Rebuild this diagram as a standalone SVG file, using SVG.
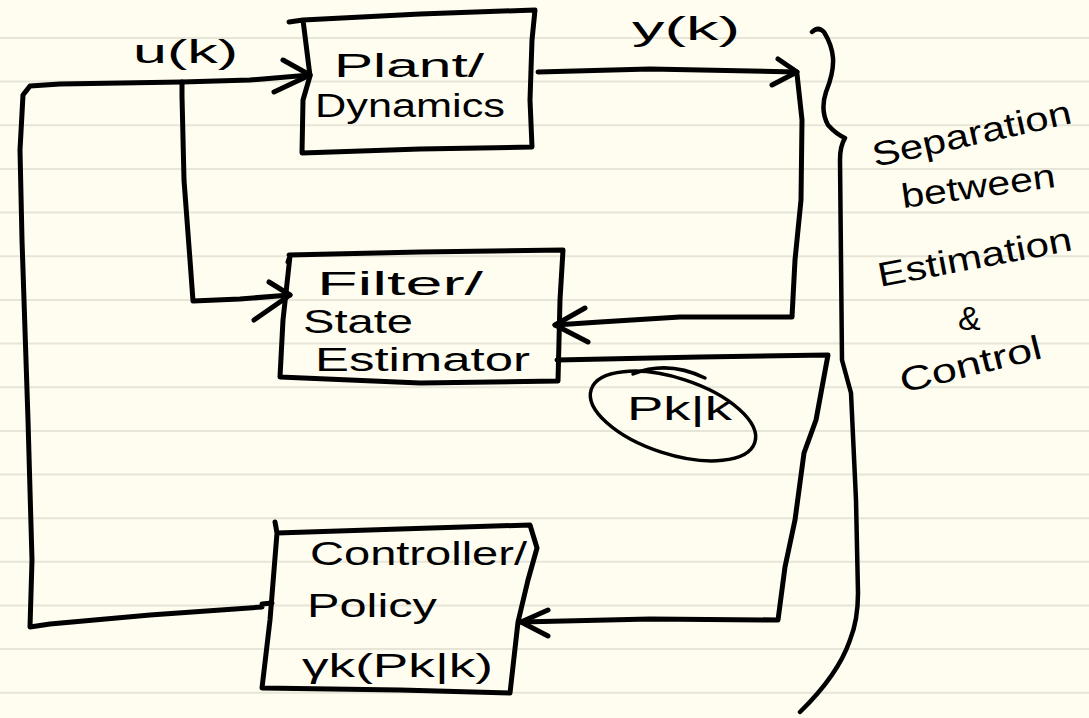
<svg xmlns="http://www.w3.org/2000/svg" width="1089" height="718" viewBox="0 0 1089 718">
  <style>
    .paper { fill: #FEFDF0; }
    .rule { stroke: #E7E5D8; stroke-width: 2; }
    .ink { fill: none; stroke: #000; stroke-width: 5; stroke-linecap: round; stroke-linejoin: round; }
    .thin { fill: none; stroke: #000; stroke-width: 3.5; stroke-linecap: round; stroke-linejoin: round; }
    .brace { fill: none; stroke: #000; stroke-width: 4.5; stroke-linecap: round; stroke-linejoin: round; }
    .txt { font-family: "Liberation Sans", "DejaVu Sans", sans-serif; fill: #000; font-size: 34px; }
  </style>

  <rect class="paper" x="0" y="0" width="1089" height="718"/>
  <g id="ruling">
    <line class="rule" x1="0" y1="38" x2="1089" y2="38"/>
    <line class="rule" x1="0" y1="81.6" x2="1089" y2="81.6"/>
    <line class="rule" x1="0" y1="125.3" x2="1089" y2="125.3"/>
    <line class="rule" x1="0" y1="169" x2="1089" y2="169"/>
    <line class="rule" x1="0" y1="212.6" x2="1089" y2="212.6"/>
    <line class="rule" x1="0" y1="256.3" x2="1089" y2="256.3"/>
    <line class="rule" x1="0" y1="299.9" x2="1089" y2="299.9"/>
    <line class="rule" x1="0" y1="343.6" x2="1089" y2="343.6"/>
    <line class="rule" x1="0" y1="387.2" x2="1089" y2="387.2"/>
    <line class="rule" x1="0" y1="430.9" x2="1089" y2="430.9"/>
    <line class="rule" x1="0" y1="474.5" x2="1089" y2="474.5"/>
    <line class="rule" x1="0" y1="518.2" x2="1089" y2="518.2"/>
    <line class="rule" x1="0" y1="561.8" x2="1089" y2="561.8"/>
    <line class="rule" x1="0" y1="605.5" x2="1089" y2="605.5"/>
    <line class="rule" x1="0" y1="649.1" x2="1089" y2="649.1"/>
    <line class="rule" x1="0" y1="692.8" x2="1089" y2="692.8"/>
  </g>

  <g id="connectors">
    <!-- feedback loop: controller -> left rail -> u(k) -> plant -->
    <path class="ink" d="M272,603 L262,604 L262,607 L150,615 L50,624 L30,627 L32,560 L28,420 L22,240 L20,150 L23,95 L30,86 L60,84 L182,82 L250,80 L310,75"/>
    <polyline class="ink" points="283,60 310,75 274,92"/>
    <!-- branch: u(k) -> filter -->
    <path class="ink" d="M182,82 L182,96 L184,180 L190,260 L193,301 L240,299 L290,295"/>
    <polyline class="ink" points="269,282 290,295 254,320"/>
    <!-- y(k): plant -> right rail -> filter -->
    <path class="ink" d="M538,72 L650,69 L797,72"/>
    <polyline class="ink" points="778,59 797,72 772,85"/>
    <path class="ink" d="M797,74 L802,120 L801,200 L795,260 L792,317 L680,317 L600,322 L555,325"/>
    <polyline class="ink" points="585,308 555,325 588,342"/>
    <!-- filter -> P_k|k -> controller -->
    <path class="ink" d="M557,360 L700,357 L828,355 L816,420 L804,453 L795,520 L785,567 L778,620 L650,619 L521,622"/>
    <polyline class="ink" points="548,610 521,622 548,636"/>
  </g>

  <g id="plant">
    <path class="ink" d="M289,22 L303,20 L420,14 L535,10 L532,40 L530,100 L532,147 L420,149 L302,153 L303,100 L310,76 L303,20"/>
    <text class="txt" x="334" y="77" font-size="38" textLength="150" lengthAdjust="spacingAndGlyphs">Plant/</text>
    <text class="txt" x="315" y="117" font-size="32" textLength="190" lengthAdjust="spacingAndGlyphs">Dynamics</text>
  </g>

  <g id="filter">
    <path class="ink" d="M289,255 L420,252 L563,250 L560,300 L558,381 L420,383 L280,377 L283,320 L290,256 L288,262"/>
    <text class="txt" x="317" y="295" font-size="34" textLength="166" lengthAdjust="spacingAndGlyphs">Filter/</text>
    <text class="txt" x="303" y="333" font-size="30" textLength="110" lengthAdjust="spacingAndGlyphs">State</text>
    <text class="txt" x="315" y="371" font-size="30" textLength="215" lengthAdjust="spacingAndGlyphs">Estimator</text>
  </g>

  <g id="controller">
    <path class="ink" d="M275,522 L277,533 L400,529 L530,525 L537,548 L528,580 L518,622 L510,693 L400,690 L262,688 L270,620 L277,533"/>
    <text class="txt" x="310" y="565" font-size="32" textLength="217" lengthAdjust="spacingAndGlyphs">Controller/</text>
    <text class="txt" x="307" y="617" font-size="34" textLength="130" lengthAdjust="spacingAndGlyphs">Policy</text>
    <text class="txt" x="302" y="677" font-size="34" textLength="191" lengthAdjust="spacingAndGlyphs">γk(Pk|k)</text>
  </g>

  <g id="u-label">
    <text class="txt" x="133" y="63" font-size="34" textLength="105" lengthAdjust="spacingAndGlyphs">u(k)</text>
  </g>

  <g id="y-label">
    <text class="txt" x="632" y="40" font-size="34" textLength="108" lengthAdjust="spacingAndGlyphs">y(k)</text>
  </g>

  <g id="pkk-note">
    <ellipse class="thin" cx="673" cy="416" rx="86" ry="38" transform="rotate(18 673 416)"/>
    <path class="thin" d="M633,374 Q668,360 705,378"/>
    <text class="txt" x="627" y="420" font-size="34" textLength="105" lengthAdjust="spacingAndGlyphs">Pk|k</text>
  </g>

  <g id="separation-brace">
    <path class="brace" d="M812,32 Q818,26 824,32 Q832,45 833,58 Q834,72 826,92 Q820,110 828,125 Q836,134 845,138 Q840,146 840,160 L842,360 L851,393 L856,500 L858,593 Q858,620 850,640 Q838,675 800,712"/>
  </g>

  <g id="separation-note">
    <text class="txt" x="875" y="167" font-size="30" textLength="203" lengthAdjust="spacingAndGlyphs" transform="rotate(-12.5 875 167)">Separation</text>
    <text class="txt" x="903" y="208" font-size="30" textLength="155" lengthAdjust="spacingAndGlyphs" transform="rotate(-7.8 903 208)">between</text>
    <text class="txt" x="880" y="287" font-size="30" textLength="197" lengthAdjust="spacingAndGlyphs" transform="rotate(-10.8 880 287)">Estimation</text>
    <text class="txt" x="958" y="330" font-size="34">&amp;</text>
    <text class="txt" x="903" y="393" font-size="30" textLength="145" lengthAdjust="spacingAndGlyphs" transform="rotate(-14 903 393)">Control</text>
  </g>
</svg>
